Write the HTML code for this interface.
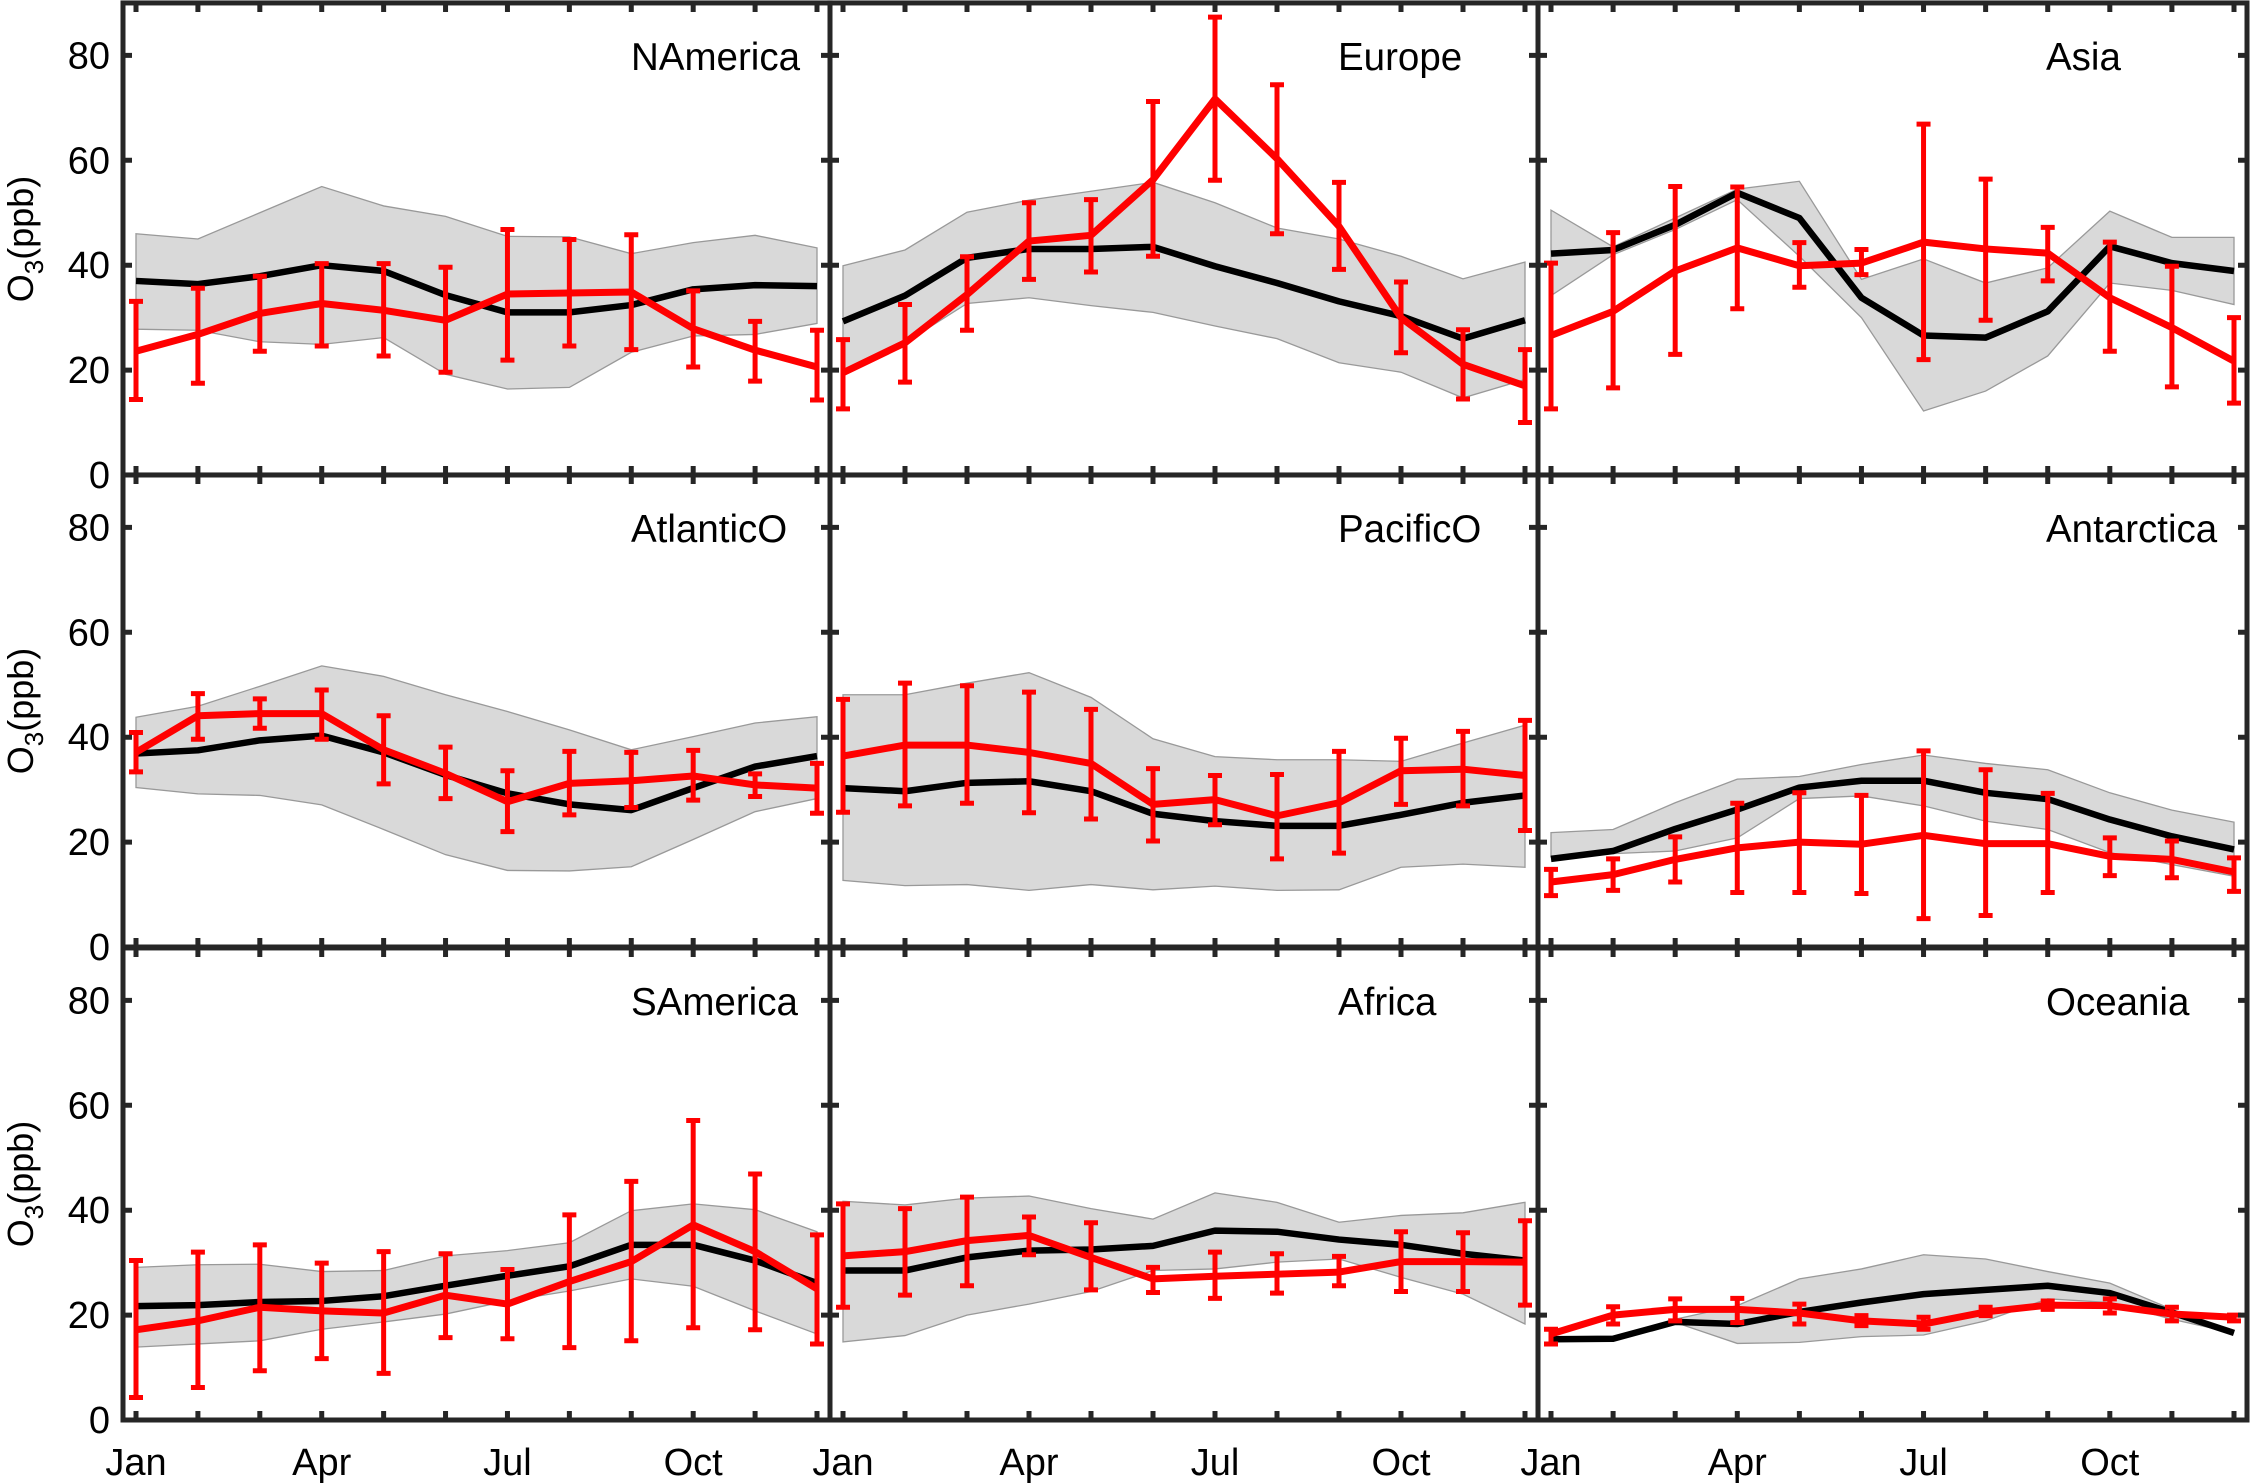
<!DOCTYPE html>
<html><head><meta charset="utf-8"><style>
html,body{margin:0;padding:0;background:#fff;}
svg{display:block;}
text{font-family:"Liberation Sans",Arial,sans-serif;fill:#000;}
</style></head><body>
<svg id="chart" width="2252" height="1483" viewBox="0 0 2252 1483" xmlns="http://www.w3.org/2000/svg"></svg>
<script>
const months=[1,2,3,4,5,6,7,8,9,10,11,12];
const monthTickLabels=["Jan","Apr","Jul","Oct"];
const monthTickPos=[1,4,7,10];
const yTicks=[0,20,40,60,80];
const regionNames=["NAmerica","Europe","Asia","AtlanticO","PacificO","Antarctica","SAmerica","Africa","Oceania"];

const naModel=[37,36.4,37.9,40,38.9,34.3,31,31,32.4,35.4,36.2,36];
const naObs=[23.6,26.8,30.8,32.7,31.4,29.5,34.5,34.7,34.9,27.9,23.8,20.6];
const naObsHi=[33.1,35.6,37.9,40.3,40.3,39.6,46.8,44.9,45.8,35.1,29.3,27.6];
const naObsLo=[14.4,17.5,23.6,24.6,22.7,19.6,21.9,24.6,23.9,20.6,17.9,14.3];
const naBandHi=[46,45,50,55,51.3,49.3,45.5,45.4,42.2,44.3,45.7,43.3];
const naBandLo=[27.8,27.6,25.4,24.9,26.2,19.2,16.4,16.7,23.4,26.5,26.8,28.9];

const euModel=[29.3,34.2,41.4,43.1,43.1,43.5,39.8,36.6,33.1,30.3,26,29.5];
const euObs=[19.5,25.2,34.4,44.6,45.7,56.3,71.7,60.3,47.4,30,21.1,17];
const euObsHi=[25.8,32.5,41.6,51.9,52.5,71.2,87.3,74.4,55.8,36.8,27.7,23.9];
const euObsLo=[12.6,17.7,27.6,37.3,38.7,41.7,56.2,46,39.2,23.3,14.5,10];
const euBandHi=[39.9,42.9,50.1,52.4,54.1,55.8,51.9,47.1,45,41.7,37.4,40.6];
const euBandLo=[19.2,25.2,32.7,33.8,32.3,31,28.4,26,21.4,19.6,14.7,18.2];

const asModel=[42.2,42.9,47.7,53.8,49,33.8,26.6,26.2,31.2,43.6,40.4,38.9];
const asObs=[26.6,31.2,38.9,43.3,39.9,40.4,44.4,43.1,42.3,33.8,28.1,21.7];
const asObsHi=[40.4,46.2,55,54.9,44.3,43,66.9,56.4,47.2,44.4,39.8,30];
const asObsLo=[12.6,16.6,23,31.7,35.8,38.2,22,29.5,37,23.6,16.8,13.7];
const asBandHi=[50.5,43.5,49,54.5,56,37.3,41.2,36.6,39.5,50.3,45.3,45.3];
const asBandLo=[34.2,42,46.8,52.5,41.7,30,12.2,16,22.7,36.6,35.2,32.5];

const atModel=[36.9,37.5,39.4,40.3,37.1,32.8,29.3,27.2,26.1,30.3,34.4,36.4];
const atObs=[37.1,44.1,44.5,44.5,37.6,33.1,27.7,31.2,31.7,32.6,30.9,30.3];
const atObsHi=[40.9,48.3,47.3,49,44.1,38.1,33.6,37.3,37.1,37.5,33,35];
const atObsLo=[33.4,39.6,41.7,39.6,31.1,28.3,22,25.2,26.6,28,28.7,25.5];
const atBandHi=[43.8,45.9,49.7,53.6,51.6,48.1,44.9,41.4,37.6,40.1,42.7,43.9];
const atBandLo=[30.4,29.2,28.9,27.1,22.4,17.6,14.6,14.5,15.3,20.5,25.8,28.3];

const paModel=[30.3,29.7,31.3,31.6,29.7,25.4,24,23.1,23.1,25.2,27.5,28.9];
const paObs=[36.4,38.5,38.5,37.1,35,27.2,28.1,25,27.5,33.6,33.9,32.7];
const paObsHi=[47.2,50.3,49.8,48.6,45.3,34,32.7,32.9,37.3,39.8,41.1,43.2];
const paObsLo=[25.7,26.9,27.4,25.6,24.4,20.2,23.3,16.8,17.9,27.2,26.9,22.2];
const paBandHi=[48.1,48.1,50.3,52.3,47.6,39.7,36.3,35.7,35.7,35.4,38.9,42.3];
const paBandLo=[12.7,11.7,11.9,10.8,11.9,10.9,11.6,10.8,10.9,15.2,15.8,15.2];

const anModel=[16.8,18.3,22.5,26.2,30.4,31.7,31.7,29.4,28.2,24.3,21.1,18.6];
const anObs=[12.4,13.8,16.7,18.9,20,19.6,21.3,19.7,19.7,17.3,16.7,14.3];
const anObsHi=[14.8,16.8,21,27.4,29.4,28.9,37.4,33.8,29.3,20.8,20.2,17];
const anObsLo=[9.8,10.8,12.4,10.4,10.4,10.2,5.4,6,10.4,13.6,13.2,10.6];
const anBandHi=[21.8,22.4,27.5,32,32.5,34.8,36.6,35,33.8,29.4,26.1,23.8];
const anBandLo=[17.2,17.8,18.3,20.8,28.3,28.8,26.9,24,22.4,18,15.7,13.5];

const saModel=[21.7,21.9,22.5,22.7,23.6,25.6,27.5,29.3,33.4,33.4,30.4,26.1];
const saObs=[17.2,18.9,21.5,20.8,20.4,23.8,22.1,26.4,30.2,37.2,32.1,25];
const saObsHi=[30.4,32,33.4,29.9,32.1,31.7,28.7,39.1,45.5,57.1,46.9,35.3];
const saObsLo=[4.3,6.2,9.4,11.7,8.9,15.7,15.5,13.8,15.1,17.6,17.2,14.5];
const saBandHi=[29.1,29.6,29.7,28.3,28.5,31.3,32.3,33.8,39.9,41.2,40.1,35.9];
const saBandLo=[13.9,14.5,15.1,17.3,18.7,20.2,22.7,24.6,26.9,25.5,20.8,16.4];

const afModel=[28.5,28.5,31,32.3,32.5,33.2,36.1,35.9,34.4,33.4,31.7,30.4];
const afObs=[31.3,32.1,34.2,35.2,31,26.9,27.4,27.8,28.2,30.2,30.2,30.1];
const afObsHi=[41.2,40.3,42.5,38.7,37.6,29.1,32,31.7,31.2,35.9,35.7,38];
const afObsLo=[21.5,23.8,25.6,31.5,24.8,24.3,23.2,24.2,25.6,24.5,24.5,21.9];
const afBandHi=[41.7,41,42.3,42.7,40.3,38.3,43.3,41.5,37.7,39,39.5,41.5];
const afBandLo=[14.9,16.1,20,22.1,24.5,28.5,28.8,30.1,30.7,27.2,24,18.3];

const ocModel=[15.4,15.5,18.7,18.3,20.6,22.4,24,24.8,25.6,24.2,20.5,16.6];
const ocObs=[16.4,20,21.1,21.1,20.4,18.9,18.3,20.6,21.9,21.8,20.2,19.6];
const ocObsHi=[17.3,21.6,23.1,23.2,22.1,19.9,19.6,21.5,22.7,23.1,21.5,20];
const ocObsLo=[14.5,18.3,18.9,18.6,18.3,18,17.3,19.9,21.1,20.4,18.9,18.9];
const ocBandHi=[15.4,15.5,19.2,21.8,26.9,28.8,31.5,30.7,28.3,26.1,21.1,16.6];
const ocBandLo=[15.4,15.5,18.6,14.6,14.8,15.9,16.2,18.9,23.1,22.4,19.2,16.6];

const modelSeries=[naModel,euModel,asModel,atModel,paModel,anModel,saModel,afModel,ocModel];
const obsSeries=[naObs,euObs,asObs,atObs,paObs,anObs,saObs,afObs,ocObs];
const obsHiSeries=[naObsHi,euObsHi,asObsHi,atObsHi,paObsHi,anObsHi,saObsHi,afObsHi,ocObsHi];
const obsLoSeries=[naObsLo,euObsLo,asObsLo,atObsLo,paObsLo,anObsLo,saObsLo,afObsLo,ocObsLo];
const bandHiSeries=[naBandHi,euBandHi,asBandHi,atBandHi,paBandHi,anBandHi,saBandHi,afBandHi,ocBandHi];
const bandLoSeries=[naBandLo,euBandLo,asBandLo,atBandLo,paBandLo,anBandLo,saBandLo,afBandLo,ocBandLo];

const NS="http://www.w3.org/2000/svg";
const svg=document.getElementById('chart');
const colEdges=[123,830,1538,2247];
const rowZero=[475,947,1420];
const pxPerUnit=5.245;
const YMAX=90;
function mk(tag,attrs,parent){const e=document.createElementNS(NS,tag);for(const k in attrs)e.setAttribute(k,attrs[k]);(parent||svg).appendChild(e);return e;}

for(let p=0;p<9;p++){
  const c=p%3,r=Math.floor(p/3);
  const L=colEdges[c],R=colEdges[c+1],Z=rowZero[r],T=Z-YMAX*pxPerUnit;
  const x0=L+13,step=(R-13-x0)/11;
  const xs=m=>x0+(m-1)*step;
  const ys=v=>Z-v*pxPerUnit;
  const g=mk('g',{});
  
  
  let pts=months.map((m,i)=>xs(m)+','+ys(bandHiSeries[p][i]));
  for(let i=11;i>=0;i--)pts.push(xs(months[i])+','+ys(bandLoSeries[p][i]));
  const band=mk('polygon',{points:pts.join(' '),fill:'#d9d9d9',stroke:'#999','stroke-width':1.3},g);
  
  
  const ml=mk('polyline',{points:months.map((m,i)=>xs(m)+','+ys(modelSeries[p][i])).join(' '),fill:'none',stroke:'#000','stroke-width':6.5,'stroke-linejoin':'round'},g);
  
  
  const ol=mk('polyline',{points:months.map((m,i)=>xs(m)+','+ys(obsSeries[p][i])).join(' '),fill:'none',stroke:'#ff0000','stroke-width':7,'stroke-linejoin':'round'},g);
  
  
  months.forEach((m,i)=>{
    const x=xs(m),yh=ys(obsHiSeries[p][i]),yl=ys(obsLoSeries[p][i]);
    const eb=mk('path',{d:`M${x},${yh}V${yl}M${x-7},${yh}H${x+7}M${x-7},${yl}H${x+7}`,stroke:'#ff0000','stroke-width':5,fill:'none'},g);
    
    
  });
  let td='';
  months.forEach(m=>{const x=xs(m);td+=`M${x},${Z}v-9M${x},${T}v9`;});
  yTicks.forEach(v=>{const y=ys(v);td+=`M${L},${y}h9M${R},${y}h-9`;});
  const tk=mk('path',{d:td,stroke:'#262626','stroke-width':5,fill:'none'},g);
  
  
  const fr=mk('rect',{x:L,y:T,width:R-L,height:Z-T,fill:'none',stroke:'#262626','stroke-width':5},g);
  
  
  const tt=mk('text',{x:L+508,y:T+67,'font-size':38.5},g);
  tt.textContent=regionNames[p];
  
  
  if(c===0){
    yTicks.forEach(v=>{
      const t=mk('text',{x:110,y:ys(v)+13,'font-size':38,'text-anchor':'end'},g);
      t.textContent=v;
      
      
    });
    const yc=(Z+T)/2;
    const yl=mk('text',{x:0,y:0,'font-size':36,'text-anchor':'middle',transform:`translate(33,${yc}) rotate(-90)`},g);
    yl.innerHTML='O<tspan font-size="26" dy="10">3</tspan><tspan dy="-10">(ppb)</tspan>';
    
    
  }
  if(r===2){
    monthTickPos.forEach((m,i)=>{
      const t=mk('text',{x:xs(m),y:1475,'font-size':38,'text-anchor':'middle'},g);
      t.textContent=monthTickLabels[i];
      
      
    });
  }
}
</script>
</body></html>
